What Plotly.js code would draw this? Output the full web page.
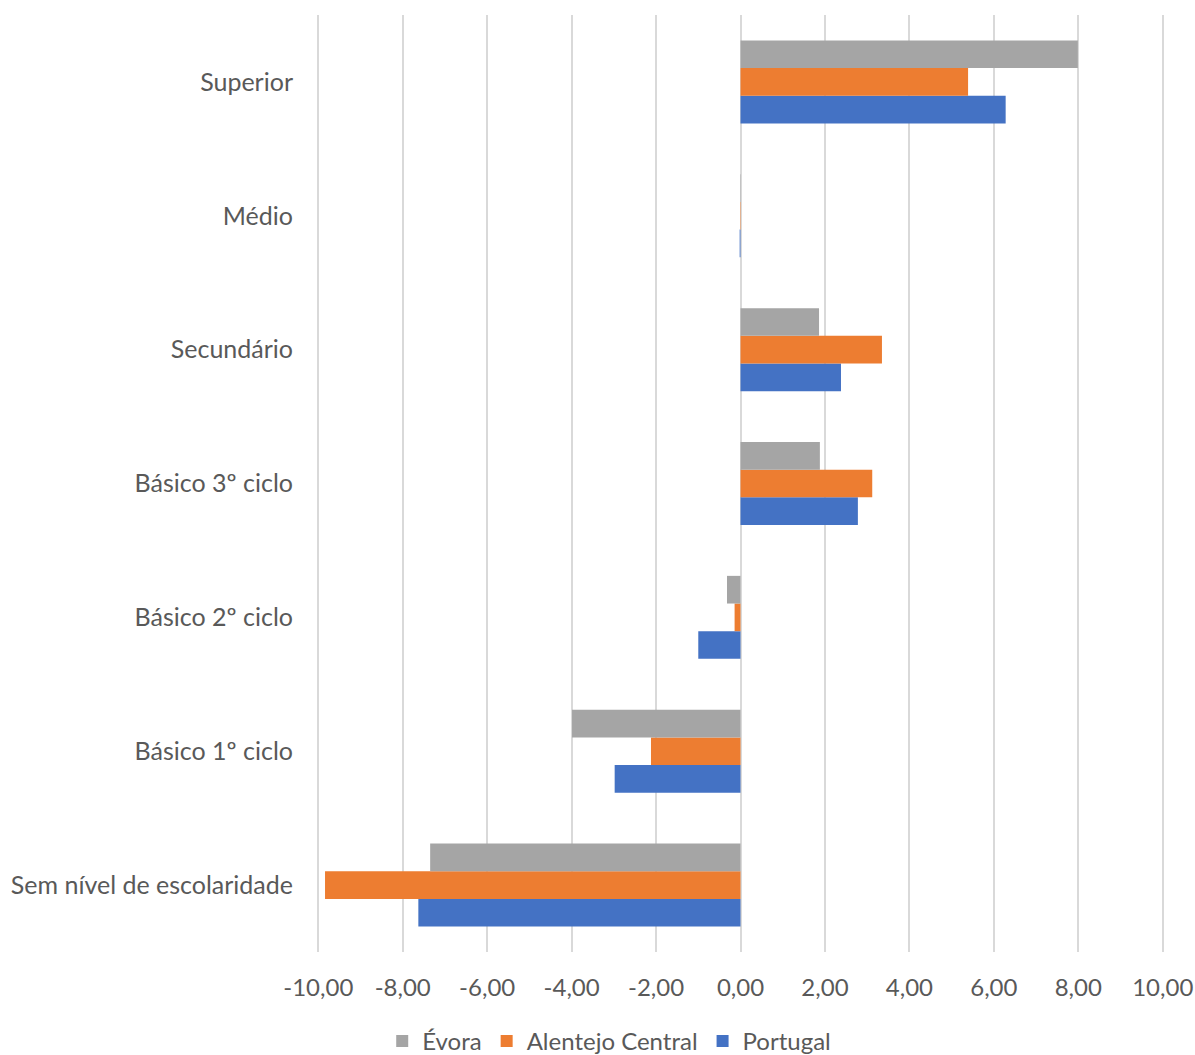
<!DOCTYPE html>
<html>
<head>
<meta charset="utf-8">
<script src="https://cdn.plot.ly/plotly-3.0.1.min.js"></script>
<style>
  html, body { margin: 0; padding: 0; background: #fff; }
  #chart { width: 1195px; height: 1055px; }
</style>
</head>
<body>
<div id="chart"></div>
<script>
// Education levels, bottom to top
const categories = [
  'Sem nível de escolaridade',
  'Básico 1º ciclo',
  'Básico 2º ciclo',
  'Básico 3º ciclo',
  'Secundário',
  'Médio',
  'Superior'
];

// Change in percentage points per level
const evora = [-7.35, -3.99, -0.32, 1.88, 1.86, 0.01, 7.99];
const alentejoCentral = [-9.84, -2.12, -0.14, 3.12, 3.35, 0.01, 5.39];
const portugal = [-7.63, -2.98, -1.00, 2.78, 2.38, -0.02, 6.28];

const xTickVals = [-10, -8, -6, -4, -2, 0, 2, 4, 6, 8, 10];
const xTickText = ['-10,00', '-8,00', '-6,00', '-4,00', '-2,00', '0,00',
                   '2,00', '4,00', '6,00', '8,00', '10,00'];

const FONT = 'Lato, "Open Sans", sans-serif';
const TEXT_COLOR = '#595959';

// Grouped horizontal bars: first trace sits lowest within each group
const traces = [
  { name: 'Portugal', y: categories, x: portugal, color: '#4472C4' },
  { name: 'Alentejo Central', y: categories, x: alentejoCentral, color: '#ED7D31' },
  { name: 'Évora', y: categories, x: evora, color: '#A5A5A5' }
].map(s => ({
  type: 'bar',
  orientation: 'h',
  name: s.name,
  x: s.x,
  y: s.y,
  marker: { color: s.color, line: { width: 0 } },
  hoverinfo: 'x+name'
}));

const layout = {
  width: 1195,
  height: 1055,
  // range padded slightly so the outer gridlines at ±10 are kept
  margin: { l: 317, r: 31, t: 15, b: 103, autoexpand: false },
  paper_bgcolor: '#ffffff',
  plot_bgcolor: '#ffffff',
  barmode: 'group',
  bargap: 0.38,
  bargroupgap: 0,
  font: { family: FONT, size: 24, color: TEXT_COLOR },
  xaxis: {
    range: [-10.03, 10.03],
    tickvals: xTickVals,
    ticktext: xTickText,
    showgrid: true,
    gridcolor: '#d9d9d9',
    gridwidth: 2,
    zeroline: false,
    showline: false,
    ticks: 'outside',
    ticklen: 14,
    tickcolor: 'rgba(0,0,0,0)',
    tickfont: { family: FONT, size: 24, color: TEXT_COLOR },
    automargin: false,
    fixedrange: true
  },
  yaxis: {
    type: 'category',
    showgrid: false,
    zeroline: false,
    showline: false,
    ticks: 'outside',
    ticklen: 18,
    tickcolor: 'rgba(0,0,0,0)',
    tickfont: { family: FONT, size: 25, color: TEXT_COLOR },
    automargin: false,
    fixedrange: true
  },
  showlegend: true,
  legend: {
    orientation: 'h',
    traceorder: 'reversed',
    x: 0.345,
    xanchor: 'center',
    y: -0.0713,
    yanchor: 'top',
    font: { family: FONT, size: 24, color: TEXT_COLOR },
    itemwidth: 20,
    bgcolor: 'rgba(0,0,0,0)'
  }
};

Plotly.newPlot('chart', traces, layout, { displayModeBar: false, staticPlot: true });
</script>
</body>
</html>
